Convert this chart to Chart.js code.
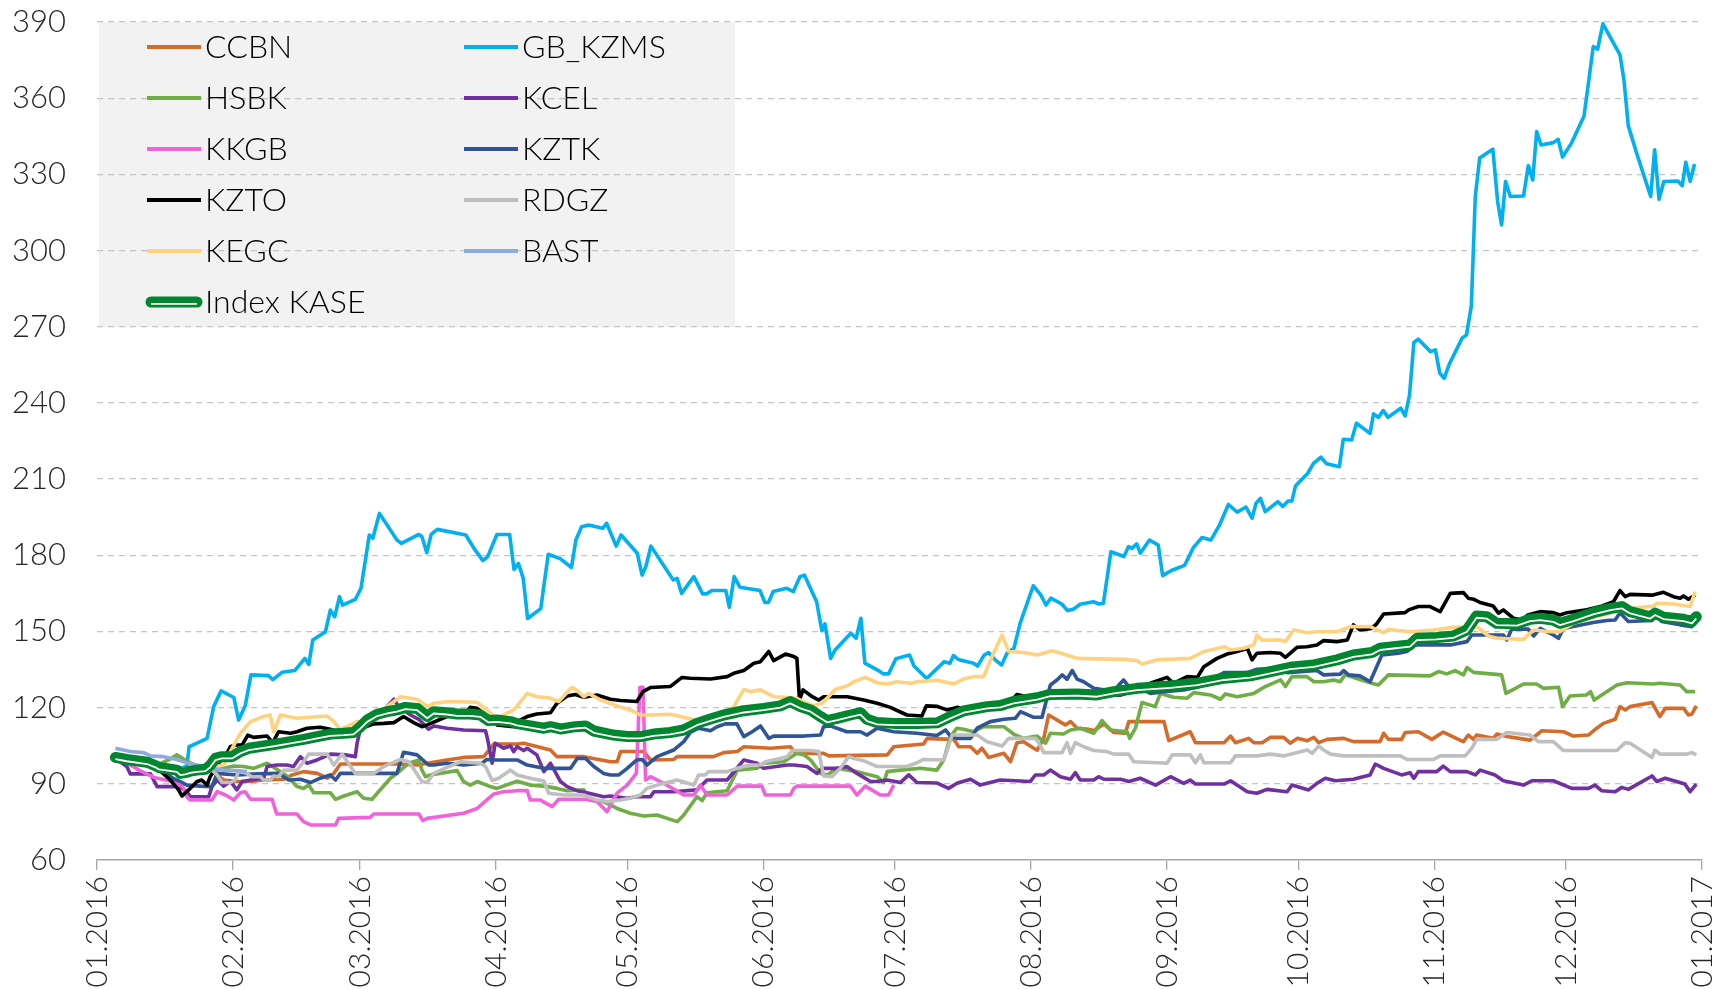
<!DOCTYPE html>
<html>
<head>
<meta charset="utf-8">
<title>KASE 2016</title>
<script src="https://cdn.jsdelivr.net/npm/chart.js@4.4.0/dist/chart.umd.min.js"></script>
<style>
  html, body { margin: 0; padding: 0; background: #ffffff; }
  #wrap { width: 1733px; height: 989px; }
</style>
</head>
<body>
<div id="wrap"><canvas id="chart" width="1733" height="989"></canvas></div>
<script>
// x = day of year 2016 (0 = 01.01.2016), y = index value (start = 100)
const monthStarts = [0, 31, 60, 91, 121, 152, 182, 213, 244, 274, 305, 335, 366];
const monthLabels = ['01.2016', '02.2016', '03.2016', '04.2016', '05.2016', '06.2016', '07.2016',
                     '08.2016', '09.2016', '10.2016', '11.2016', '12.2016', '01.2017'];
const yTicks = [60, 90, 120, 150, 180, 210, 240, 270, 300, 330, 360, 390];

const CCBN = [[4.2,100],[10,98.5],[15,97],[19.8,95.4],[25.8,95.4],[28.9,91.5],[31.9,90.9],[35,90.9],[38,91.5],[42.6,91.8],[44.5,93.5],[47.1,94.8],[50.2,94.1],[52.5,92.2],[54,94.1],[55.5,97.8],[59.3,97.8],[68.4,97.8],[73,97.4],[75.3,98.1],[79.8,99.4],[83.6,100.4],[88.2,100.7],[89.7,104],[90.5,105.7],[95.8,105.7],[97.3,106],[103.4,103.3],[104.9,100.7],[111,100.7],[117.1,98.7],[118.6,98.7],[119.4,102.7],[124.7,102.7],[126.2,99.4],[131.5,99.6],[132.3,100.7],[140.6,100.7],[142.9,102.3],[146,102.7],[147.5,104.6],[153.6,104],[158.1,104.6],[159.3,102],[165.7,102],[166.9,101],[180.2,101.4],[181.7,104.6],[188.5,105.7],[189.3,107.9],[191.6,107.7],[195.4,107.5],[196.5,104.6],[199.2,104.6],[200.7,102],[201.8,104],[203.3,100.4],[206.8,102],[208.3,98.7],[209.8,106.2],[211.3,106.6],[213.6,104],[214.4,103.3],[215.9,107.9],[217,117.1],[220.8,113.2],[222,114.5],[223.5,111.9],[226.2,111.5],[227.3,110.9],[229.6,113.6],[231.9,110.2],[234.5,109.9],[235.3,114.5],[243.3,114.5],[244.4,107],[249.3,110.5],[250.5,106.2],[257,106.2],[258.5,108.8],[259.6,106.2],[262.6,107.9],[263.8,106.2],[265.7,106.2],[267.6,108.3],[270.6,108.3],[272.1,106],[273.7,107.9],[276,107],[277.5,108.3],[278.6,106.2],[280.5,107.5],[284.3,107.9],[286.5,106.6],[292.6,106.6],[293.4,109.9],[294.5,107.5],[297.5,107.5],[298.3,110.2],[301.3,110.5],[304.4,107.5],[307,110.4],[310.8,107.2],[311.6,106.6],[312.7,109.2],[313.9,107.5],[314.6,109.2],[318.4,107.9],[319.2,109.6],[321.5,108.6],[326.8,107.2],[329.5,110.9],[334.4,110.5],[336.7,108.8],[340.1,109.2],[342,111.9],[343.5,113.8],[346.2,115.4],[347.3,120.4],[348.5,119.1],[349.6,120.4],[354.6,122],[356.4,116.5],[357.6,119.7],[361.8,119.7],[362.9,117.1],[363.7,117.5],[364.7,120.7]];

const GB_KZMS = [[4.2,100],[8,99],[12,98],[16,97],[19,96],[20.5,97],[21,104.6],[22.8,106],[25.1,107.9],[26.6,120.4],[28.3,126.6],[31.2,124],[32.3,115.1],[33.8,120.7],[35.1,132.9],[39.1,132.6],[40.1,131],[42.2,133.9],[45.1,134.6],[47.4,139.4],[48.3,137],[49.2,146.6],[52.1,149.9],[53.2,158.4],[54.2,155.8],[55.3,163.7],[56,160.4],[58.9,162.6],[60.2,167],[62.1,188],[62.9,186.7],[64.4,196.5],[68.4,186],[69.4,184.7],[73.4,188.2],[74.1,187.3],[75.2,181],[76.2,188.2],[77.6,190.2],[84.1,188],[86.2,182.1],[88,177.9],[89.1,179.5],[91.2,188.2],[94.1,188.2],[95.1,174.4],[96.1,176.8],[97.2,170.9],[98.2,155.1],[101.2,159],[102.9,180.4],[105.6,178.7],[108.2,175.2],[109.2,186],[110.5,191.2],[112.1,191.9],[115.3,190.6],[116.2,192.6],[118.4,183.6],[119.5,188],[123.2,180.8],[124.3,172.2],[125.2,175.8],[126.3,183.6],[131.4,170.3],[132.3,170.9],[133.3,165],[136.1,171.6],[138.1,164.8],[139,164.8],[140.2,166.1],[143.4,166.1],[144.2,159.5],[145.3,171.6],[146.6,167.4],[151.2,166.1],[152.3,161.4],[153.1,161.4],[154.2,165.7],[157.3,167],[158.8,165.7],[160.3,171.6],[161.3,172.2],[164.1,161.7],[165.3,150.3],[166,153],[167.3,139.4],[168.3,142.7],[171.9,149.3],[173.1,147.3],[174.2,155.2],[175.1,137.5],[178.2,134.6],[179.3,133.3],[180.5,133.3],[182.2,139.3],[185.3,140.7],[186.3,136.4],[189.2,131.5],[193.2,138.1],[194.5,137.5],[195.3,140.5],[196.4,139],[199.9,137.5],[200.8,136.4],[202.3,140.7],[203.3,141.7],[205,138.5],[206.3,136.8],[207.5,141.4],[209.1,143.4],[210.5,153.2],[213.5,168],[215.2,164.4],[216.4,160.4],[217.5,163.1],[220,160.8],[221.3,158.2],[222.6,158.7],[224.2,160.7],[227.2,161.7],[228.5,160.8],[229.5,161.1],[231.2,181.4],[234.2,179.5],[235.2,183.4],[236,182.7],[237.1,184.5],[237.9,180.8],[240,186],[242,184],[243,172],[245,174],[248,176],[250,183],[252,187],[254,186],[256,192],[258,200],[260,197],[262,199],[263.4,194.6],[264.3,200.5],[265.3,202.4],[266.4,197.2],[269.3,201.1],[270.4,199.2],[271.6,201.4],[272.5,201.4],[273.3,207.3],[276.1,212.3],[277.4,216.2],[279.1,218.6],[280.4,216],[283.3,214.9],[284.2,225.7],[286.1,225.4],[287.2,232],[290.3,228],[291.1,235.7],[292.2,234.3],[293.3,237],[294.4,234.3],[297.3,237.9],[298.3,234.9],[299.3,243.1],[300.3,263.8],[301.3,265.1],[304.1,260.2],[305.2,260.9],[306.2,251.7],[307.2,249.7],[308.3,255],[311.3,265.5],[312.3,266.8],[313.4,278.2],[314.3,321.3],[315.3,336.4],[318.3,339.9],[319.4,319.3],[320.3,310.1],[321.2,327.2],[322.3,321.3],[325.3,321.5],[326.4,333.5],[327.4,327.8],[328.3,346.9],[329.3,341.6],[332.1,342.5],[333.2,343.8],[334.2,336.8],[336.3,342.5],[339.1,353],[340.1,365.9],[341.2,380.3],[342.2,379.3],[343.4,389.3],[347.3,377.1],[348.2,367.2],[349.2,349.1],[351.2,337.7],[354.3,321.3],[355.2,339.7],[356.2,320.2],[357.3,327.2],[360.5,327.4],[361.5,325.5],[362.3,334.8],[363.3,327.2],[364.3,334.1]];

const HSBK = [[4.2,100],[7.6,98.1],[13.7,97.4],[16.3,99.4],[18.2,101.4],[20.1,99.4],[22.8,96.8],[25.1,95.4],[26.6,95.2],[28.9,96.1],[31.2,97],[33.4,96.8],[35.7,96.1],[38.8,98.1],[41,95.7],[43.3,93.1],[45.6,88.9],[47.1,88.2],[48.3,89.5],[49.4,86.5],[53.2,86.5],[54.4,83.9],[56.3,85.2],[59.3,86.9],[60.8,84.3],[62.7,83.9],[63.9,86.3],[66.9,92.2],[68.4,94.1],[71.1,98.1],[73.4,99.4],[74.1,95.4],[74.9,92.8],[76,93.5],[82.1,95.2],[83.6,90.9],[85.1,89.5],[86.7,90.9],[89.7,88.9],[91.2,88.2],[95.8,91],[98.8,89.5],[101.9,89.1],[104.9,88.2],[107.2,87.3],[111,87.6],[112.1,83.6],[115.5,83],[118.6,80.3],[121.6,78.4],[124.7,77.3],[127.7,77.7],[132.3,75.1],[133.8,77.7],[136.8,84.9],[138,83.4],[139.1,86.5],[143.7,87.3],[146,95.4],[150.5,96.1],[152,98.1],[156.6,98.7],[159.6,102],[161.2,101.4],[162.7,99.4],[165,94.1],[166.5,93.5],[168.8,96.1],[173.3,94.8],[177.9,92.8],[179.4,90.5],[180.2,94.8],[183.2,95.4],[187.8,96.1],[191.5,95.4],[193.1,99.4],[194.6,108.6],[196.1,111.9],[197.6,111.5],[199.9,110.5],[202.2,112.5],[206.8,112.5],[209,109.6],[211.3,107.9],[214.4,108.8],[216.3,106],[217.4,109.9],[220.4,109.6],[222,111.2],[224.2,111.9],[227.3,109.9],[229.2,114.9],[231.1,111.2],[234.9,110.5],[235.5,107.9],[236.8,111.9],[238.3,122],[241.3,120.4],[242.5,125.6],[245.5,124.1],[248.6,123.7],[250.1,125.9],[253.9,125],[256.2,123.3],[257.3,125.4],[260,124.3],[263.8,125.6],[266.4,128.3],[269.9,130.9],[271,128.3],[272.5,132.2],[275.9,132.2],[277.5,130.2],[279.7,130.2],[282,130.9],[283.5,130.2],[284.6,132.9],[290.7,129.6],[292.2,128.9],[294.5,132.9],[304,132.5],[305.9,134.2],[307.8,133.3],[309.7,134.6],[311.6,132.9],[312.4,135.8],[313.9,133.9],[320.3,132.9],[321.3,125.6],[325.3,129.3],[328.3,129.3],[329.8,127.6],[333.3,128],[334.2,120.4],[335.9,124.6],[339.7,125],[340.6,126.3],[341.4,123],[342.8,124.6],[346.6,128.9],[348.9,129.8],[354.9,129.3],[356.4,129.6],[361,128.9],[362.5,126.3],[364.4,126.3]];

const KCEL = [[4.2,100],[6.8,96.8],[7.6,93.9],[12.2,93.9],[13.7,88.9],[17.5,88.9],[18.2,89.5],[20.5,86.9],[21.3,84.9],[25.5,84.9],[26.2,88.9],[27.4,91.5],[28.9,89.1],[30.4,91],[31.9,87.6],[33.1,90.9],[35,91.5],[38,92.2],[38.8,96.8],[41,97.4],[43.3,97.4],[44.8,96.8],[46.4,100.7],[47.9,98.1],[50.2,99.4],[53.2,101.7],[56.6,101.4],[58.9,100.7],[59.3,105.9],[60.1,111.9],[63.1,115.1],[65.4,119.1],[67.7,123.3],[68.8,120.4],[71.5,117.1],[73.4,115.4],[75.6,111.5],[76.8,112.8],[79.8,111.9],[83.6,111.2],[88.6,110.9],[89.1,107.3],[90.1,98.1],[90.8,106],[92.7,104],[94.3,104.9],[95,102.7],[95.8,104.6],[97.3,103.1],[98.1,104],[100.3,101.4],[101.9,94.8],[103.4,98.1],[105.7,90.9],[107.2,88.9],[109.5,87.3],[111.7,86.5],[115.5,84.9],[117.1,85.2],[120.9,84.3],[123.1,84.9],[126.2,84.9],[127,86.9],[131.5,86.9],[136.8,87.6],[139.1,91.5],[143.7,91.5],[147.5,99.4],[150.5,98.1],[152,96.1],[157.4,97.4],[158.9,97.4],[161.9,96.8],[164.2,94.1],[165.3,96.1],[168.8,96.1],[171,96.8],[173.3,94.1],[176.4,90.9],[177.9,90.9],[180.2,91.5],[183.2,90.5],[185.1,93.5],[187,90.5],[191.6,90.3],[194.2,88.2],[196.1,90.2],[199.2,91.8],[201.4,89.5],[206,91.5],[212.8,90.9],[214,93.5],[215.9,93.5],[217.4,95.4],[219.7,92.8],[222,91.8],[223.1,94.4],[224.2,91.5],[227.3,91.5],[228.4,92.8],[229.6,91.8],[233.4,91.8],[235.3,90.9],[237.9,92.2],[241.4,89.5],[244.8,92.8],[247.8,90.2],[249.3,91.5],[250.5,89.9],[257,89.9],[258.5,91.2],[262.3,86.9],[264.5,86.3],[266.8,87.8],[271.4,86.9],[272.5,89.5],[276.3,87.6],[278.2,90.2],[280.1,92.2],[282.4,91.2],[286.5,91.8],[290.3,93.5],[291.5,97.8],[293.4,96.1],[297.5,93.5],[299.4,94.4],[300.3,92.2],[301.3,94.8],[305.5,94.8],[307,97],[308.6,94.8],[312.4,94.8],[314.3,93.5],[315.4,95.4],[318.8,93.5],[320.7,91.2],[325.3,89.5],[327.2,91.2],[332.1,91.2],[336.3,88.2],[340.1,88.2],[341.6,89.5],[343.1,87.3],[346.2,86.9],[347.7,88.6],[349.2,87.8],[354.6,93.1],[355.7,90.9],[357.6,92.2],[362.1,89.9],[363.3,86.9],[364.7,89.9]];

const KKGB = [[4.2,100],[7,98],[10,95],[13,92.5],[17,91],[19.5,89],[20.5,84.9],[21.3,83.6],[26.2,83.6],[27.4,86.9],[29.3,85.6],[31.2,83.6],[32.7,86.5],[33.8,86.9],[35,83.9],[39.9,83.9],[41,78.1],[45.6,78.1],[47.1,75.1],[48.7,73.8],[54.4,73.8],[55.1,76.4],[62.3,76.8],[63.1,78.1],[73.4,78.1],[74.3,75.5],[75.3,76.4],[83.6,78.4],[86.7,80.3],[89.3,84.3],[90.5,86],[92.7,86.9],[95.8,87.3],[98.1,87.3],[98.8,83.6],[101.1,83.6],[103.8,81],[105.3,83.9],[111.7,83.9],[114,83],[116.3,79],[118.6,86.3],[120.9,89.5],[123,94.1],[123.8,128],[124.5,128],[125.1,91.5],[126.2,92.8],[129.2,90.2],[133.8,85.6],[136.1,85.6],[137.6,89.5],[139.1,85.6],[143.7,85.6],[146,89.1],[151.6,89.1],[152.4,85.6],[158.1,85.6],[158.9,88.2],[159.6,89.1],[171.8,89.1],[173.3,85.6],[175.2,89.1],[178.6,85.6],[180.5,85.6],[181.7,89.5]];

const KZTK = [[4.2,100.5],[10,98],[15,95],[17.5,92],[19,90.9],[20.5,89.5],[23.6,89.1],[26.2,88.9],[27.4,94.1],[31.9,93.5],[36.5,93.9],[41.4,94.1],[43.7,91.5],[46.4,91.8],[48.7,90.5],[50.9,92.2],[53.2,93.5],[54.4,91.5],[55.5,94.1],[68.4,94.1],[69.9,102.4],[73,101.4],[75.6,97.4],[76.8,97.4],[79.8,98.1],[83.6,97.4],[87.8,98.1],[88.9,99.6],[90.5,99.4],[95.8,99.4],[98.1,97.4],[101.9,96.1],[108,96.1],[109.5,100],[111.4,100],[113.3,96.8],[115.5,94.1],[117.1,93.5],[119,93.5],[120.9,96.1],[123.1,99.4],[124.3,99.6],[125.4,97.4],[127.7,100.7],[131.5,103.3],[133.8,106.6],[135.3,110.2],[137.2,111.9],[139.9,110.9],[141.4,112.5],[143.3,113.6],[145.9,113.6],[147.5,108.6],[149.4,110.5],[151.3,112.8],[153.2,107.9],[154.3,108.8],[161.2,108.8],[165,109.2],[165.7,112.5],[167.2,112.8],[171,110.5],[174.1,110.5],[175.6,109.2],[177.9,111.9],[181.7,110.5],[187,109.9],[191.5,109],[193.5,111.2],[194.6,108.8],[196.1,107.9],[199.2,107.9],[200.7,111.9],[203.7,114.5],[206.8,115.4],[209.4,115.8],[210.6,118.4],[213.6,116.2],[215.5,116.2],[217.4,128.9],[218.9,130.9],[220.1,132.9],[221.2,131.2],[222.4,134.6],[223.5,131.2],[225,130.2],[227.3,127.6],[229.6,127],[231.5,125.6],[233,128.9],[234.1,130.9],[235.3,128.3],[237.2,128.3],[240.2,125.6],[243.3,126.3],[247.8,127],[250.9,128],[257,133.8],[262.3,133.8],[264.5,135.1],[268.3,135.5],[271.4,133.8],[275.2,134.2],[278.2,134.6],[279.7,132.9],[283.5,133.2],[284.3,134.6],[285.4,132.9],[288,132.5],[290.3,130.2],[293,140.7],[296.8,141.4],[298.7,142.1],[300.6,144.7],[308.6,144.7],[312.4,146],[313.5,148.6],[320.7,148.6],[321.5,146.6],[322.6,150.9],[326.4,150.9],[327.6,148.2],[329.1,151.2],[332.1,148.6],[333.3,147.3],[334.4,151.2],[341.2,153.5],[344.3,154.3],[346.2,154.5],[347.3,157.4],[349.2,153.9],[354.6,154.3],[355.3,157.8],[356.8,153.9],[361,152.6],[363.7,151.9],[364.4,153.2]];

const KZTO = [[4.6,99.4],[8,98.5],[12,97.5],[14.5,95],[16.7,91.5],[18.6,87.6],[19.4,85.2],[20.9,87.6],[22.8,90.9],[23.9,91.5],[25.1,89.5],[25.8,92.8],[27.7,98.1],[29.3,101],[30.4,104.6],[31.5,105.3],[33.1,105.3],[34.4,109.2],[35.7,108.3],[38.8,108.8],[40.1,106.2],[41.4,110.5],[44.1,109.9],[45.6,110.5],[47.9,111.9],[50.9,112.3],[53.2,111.5],[55.1,110.5],[56.3,111.9],[59,111],[63.1,113.6],[65.4,113.8],[67.7,114.1],[69.9,116.5],[72.2,114.1],[74.1,112.5],[75.3,113.2],[79.8,116.5],[83.6,117.1],[85.1,120.1],[86.7,119.7],[88.6,117.1],[90.1,115.4],[91.2,113.2],[95,112.5],[95.8,114.5],[98.1,116.5],[100.3,117.5],[103.4,118],[104.9,121.7],[107.2,124.6],[109.1,125.2],[111,124.1],[114,125],[117.1,123.3],[119.4,122.8],[123.1,122.4],[124.5,126.3],[126.2,127.9],[130.7,128.3],[133.4,131.9],[135.3,131.6],[139.9,131.3],[143.7,132.2],[145.2,133.5],[147.5,134.6],[149.8,137.5],[151.3,138.1],[153.2,142.1],[154.3,138.5],[157,141.1],[158.9,140.1],[159.6,139.4],[160.2,123],[161,127],[163.1,124.3],[164.6,123],[165.7,124.3],[171.1,124.3],[174.8,123],[177.9,121.7],[180.9,120.1],[184.7,117.1],[188.1,116.7],[189.1,120.7],[191.6,120.5],[193.8,119.1],[196.1,120.1],[199.2,119.1],[203,120.7],[206.8,119.7],[209.8,125.2],[212.1,124.3],[215.1,125],[218.2,126.3],[222,125.6],[229.6,125],[233.4,125],[237.2,127],[240.2,129.6],[244,131.9],[245.5,129.6],[248.6,132.2],[250.9,131.9],[252.4,136.1],[255.4,139.4],[257.7,141.1],[260,142.1],[262.3,143.4],[263.4,138.8],[264.5,141.4],[267.6,141.7],[269.9,141.4],[271,139.8],[273.7,143.8],[275.9,144],[278.2,144.7],[279.7,146.4],[282.8,146],[285.1,146.6],[286.5,152.6],[288,150.6],[290.7,151.2],[291.8,153],[293.4,156.9],[298.3,157.4],[299.1,158.5],[301.3,159.8],[304,159.8],[306.3,157.8],[308.6,165],[311.6,165.3],[312.7,163.1],[313.9,162.7],[315.4,161.4],[318.4,160],[319.6,157.2],[320.7,158.5],[323,155.2],[324.9,154.5],[326.3,156.5],[329.1,157.8],[332.1,157.4],[333.6,156.5],[335.2,157.4],[339.7,158.5],[342.8,159.8],[345.8,161.7],[347.3,166.1],[348.5,163.7],[349.6,164.6],[354.6,164.3],[357.2,165.4],[359.5,163.7],[361,163.1],[361.8,164],[362.9,162.7],[364.4,164.4]];

const RDGZ = [[4.2,100],[10,99],[16,97],[20,95.5],[22.8,94.4],[24.3,95.4],[25.8,96.1],[27.4,93.5],[28.5,90.5],[30.4,90.5],[31.5,91.5],[32.3,94.8],[33.8,94.4],[35.3,92.8],[37.2,92.8],[38,91.5],[39.5,91.5],[40.3,93.1],[41.4,92.8],[42.6,95.4],[45.6,95.4],[47.1,98.7],[48.3,101.7],[52.5,101.7],[54,97.4],[55.9,101.7],[58.9,94.1],[63.1,94.1],[65.4,96.8],[69.2,99.6],[71.1,98.7],[74.1,90.9],[75.3,90.5],[76.8,94.1],[79.8,96.5],[82.9,98.7],[87.4,98.1],[88.6,96.8],[90.1,91.3],[91.6,92.2],[94.3,95.4],[95.8,93.5],[98.8,92.2],[101.9,91.1],[103,86.3],[106.4,85.6],[111,85.6],[114,83.6],[116.3,83],[119.3,83.6],[121.6,84.3],[123.9,85.6],[125.4,88.2],[127.7,89.5],[132.3,91.5],[136.1,89.5],[137.2,93.5],[138.7,93.5],[139.5,94.8],[143.7,94.8],[146,96.1],[149,97.4],[151.7,97.4],[152.4,98.7],[155.8,100],[157.4,100.7],[158.5,103.1],[162.7,103.1],[164.6,102.7],[165.7,93.1],[167.6,92.8],[169.5,96.1],[171.4,100.7],[172.6,100],[174.8,99.1],[177.9,96.8],[184.7,96.8],[187,98.3],[188.5,99.6],[193.1,99.4],[195,109.2],[200.7,109.2],[203,106.6],[206.4,104.9],[207.9,107.9],[214,107.9],[214.8,106],[215.9,102.3],[220.1,102.3],[221.2,106.2],[222,102],[223.1,106.2],[225,104.6],[227.3,103.1],[230.3,102.7],[231.9,101.7],[235.3,101.7],[236.4,98.7],[241.7,98.3],[244,98.1],[245.2,101.4],[249.3,101.4],[250.5,98.3],[251.6,101.4],[252.4,98.3],[258.5,98.3],[259.6,101],[264.5,101],[267.6,101.7],[270.6,101],[273.7,102.3],[276,103.3],[277.1,102],[278.6,104.9],[279.7,103.3],[281.3,101.7],[284.3,101],[297.2,101],[298.7,99.6],[304.8,99.6],[306.3,101],[312,101],[313.5,104],[314.6,107.5],[319.2,107.5],[321.5,110.2],[326.8,109.2],[328.7,106.6],[332.1,106.6],[334.4,103.1],[346.6,103.1],[348.5,106.2],[349.6,106],[354.6,100.4],[355.3,103.3],[356.4,101.7],[362.5,101.7],[363.7,102.3],[364.7,101.4]];

const KEGC = [[4.2,100],[11.4,97.4],[19,95.4],[25.1,96.1],[28.9,97.4],[30.4,102.7],[32.7,109.9],[35,114.5],[38,116.5],[39.5,117.1],[40.3,110.5],[41.8,117.1],[45.6,115.8],[48.7,116.2],[52.5,116.7],[54,114.5],[55.5,111.2],[57,112.5],[59.3,114.5],[62,114],[66.1,120.4],[69.2,124.3],[73,123.3],[75.3,120.4],[76.8,121.7],[80.6,122.4],[86.7,122.1],[89.7,117.8],[91.2,115.8],[95,119.1],[95.8,120.7],[98.1,125.6],[100.3,124.3],[103,123.9],[105.3,122.4],[108.3,128],[109.5,126.7],[111,124.3],[112.1,125.6],[114.8,123],[118.6,120.7],[121.6,119.1],[123.9,117.1],[126.2,117.1],[130.7,117.4],[133.8,116.2],[137.6,114.5],[139.9,116.5],[142.9,117.1],[145.2,120.4],[147.5,127.2],[149,126.3],[151.3,127],[154.3,124.3],[156.6,124.1],[159.6,123.7],[161.9,121.7],[163.4,120.7],[165.3,121.7],[167.2,125],[168.4,127.2],[171,128.5],[172.6,130.2],[175.2,131.9],[177.9,129.8],[180.2,129.3],[182.4,130.2],[185.5,129.6],[187,130.2],[191.5,130.8],[195.4,129.3],[197.6,131.3],[199.9,132.2],[202.2,132.2],[204.1,140.1],[206.4,148.6],[207.9,142.1],[211.3,141.7],[214.4,140.7],[217.8,142.4],[220.4,141.1],[223.5,139.4],[228,139.2],[234.1,139],[237.2,138.5],[238.3,137.2],[241.7,138.8],[249.3,139.4],[252.4,142.1],[254.7,143],[257,144],[258.5,142.7],[261.5,143.4],[263.8,144.7],[264.5,148.6],[265.7,146.6],[269.9,146.6],[271,146],[272.9,150.6],[276,149.5],[278.2,149.9],[282.8,149.9],[285.8,151.9],[290.3,151.9],[293.4,149.5],[294.5,150.8],[299.4,149.9],[304.8,150.6],[309.3,151.6],[314.6,151.9],[317.3,148.2],[319.2,147.3],[325.3,146.9],[327.6,150.6],[331.4,149.9],[333.6,149.9],[336.7,153.2],[341.2,155.6],[347.3,158.2],[350.4,159.1],[354.9,160],[355.7,161.1],[359.5,160.8],[363.3,159.8],[364.4,165.7]];

const BAST = [[4.2,104],[7.6,102.7],[10.6,102.3],[12.2,101],[15.2,100.7],[18.2,99.6],[20.5,98.3],[24.3,96.8],[25.8,96.1],[28.9,95.4],[31.9,95.2],[34.2,94.8]];

const INDEX_KASE = [[4.2,100.4],[6.8,99.6],[11.4,98.5],[13.3,97.2],[14.1,96.4],[18.2,95.4],[19,94.1],[20.1,94.4],[21.3,95],[22.8,95.4],[24.7,95.7],[25.8,97.2],[27,100],[28.5,100.7],[30.8,100.7],[32.7,102.7],[34.6,104],[38,104.9],[41,105.7],[44.1,106.6],[47.1,107.5],[50.2,108.6],[53.2,109.6],[56.3,109.9],[58.5,110.2],[60.1,112.5],[61.6,115.1],[63.9,117.4],[66.1,118.4],[68.4,119.1],[70.3,120.1],[73,119.7],[75.3,116.5],[76.8,118.4],[79.8,118],[82.1,117.5],[85.1,117.5],[87.4,117.1],[89.3,114.9],[91.2,115.1],[94.3,114.5],[95.8,113.7],[98.8,112.8],[101.9,111.9],[103.4,112.5],[105.7,111.6],[109.1,112.5],[111.4,112.8],[113.3,110.8],[117.8,109.2],[120.9,108.6],[123.9,108.6],[126.9,109.6],[130.7,110.2],[133.8,111.2],[136.8,113.8],[139.9,115.5],[142.9,117.1],[147.5,118.8],[152,119.7],[155.8,120.7],[158.1,122.4],[160.4,120.4],[162.7,119.1],[165,116.5],[166.5,114.9],[168.8,115.8],[171.8,117.1],[174.1,118],[175.6,115.4],[177.9,114.1],[181.7,113.8],[187,113.8],[191.6,114],[194.6,116.5],[197.6,118.7],[203,120.4],[206,120.8],[209,122.4],[214.4,123.9],[217.4,125.2],[223.5,125.4],[228,125],[231.9,126.3],[237.2,127.6],[244.8,128.5],[250.9,129.6],[257,131.6],[263,132.5],[267.6,134.2],[272.1,135.9],[277.5,136.8],[282.8,138.8],[286.5,140.7],[290.7,141.7],[292.6,143.4],[295.6,144],[299.4,144.7],[301,147.3],[305.5,147.6],[309.3,148.2],[312.4,150.6],[314.6,156.1],[316.9,155.8],[319.2,153.2],[323.8,153],[326.8,154.8],[329.1,155.2],[332.1,154.5],[333.6,153.2],[336.7,154.8],[341.2,157.4],[345.1,159.1],[347.7,159.8],[349.6,157.8],[354.2,155.8],[355.3,157.2],[357.2,155.6],[361.8,154.8],[363.7,153.9],[364.7,155.8]];

// series in legend order (row by row, two columns)
const series = [
    { name: 'CCBN',       data: CCBN,       color: '#D56B2B' },
    { name: 'GB_KZMS',    data: GB_KZMS,    color: '#00B0F0' },
    { name: 'HSBK',       data: HSBK,       color: '#70AD47' },
    { name: 'KCEL',       data: KCEL,       color: '#7030A0' },
    { name: 'KKGB',       data: KKGB,       color: '#F062D9' },
    { name: 'KZTK',       data: KZTK,       color: '#2F5597' },
    { name: 'KZTO',       data: KZTO,       color: '#000000' },
    { name: 'RDGZ',       data: RDGZ,       color: '#BFBFBF' },
    { name: 'KEGC',       data: KEGC,       color: '#FFD27F' },
    { name: 'BAST',       data: BAST,       color: '#8FAADC' },
    { name: 'Index KASE', data: INDEX_KASE, color: '#00862F', kase: true }
];

const FONT = "Lato, 'Open Sans', 'Noto Sans', sans-serif";
const toXY = arr => arr.map(p => ({ x: p[0], y: p[1] }));

const datasets = series.map((s, i) => ({
    label: s.name,
    data: toXY(s.data),
    borderColor: s.color,
    backgroundColor: s.color,
    borderWidth: s.kase ? 11 : 3.6,
    borderCapStyle: s.kase ? 'round' : 'butt',
    borderJoinStyle: 'round',
    pointRadius: 0,
    tension: 0,
    order: series.length - i
}));
// white inner stripe of the double line of Index KASE
datasets.push({
    label: 'Index KASE inner',
    data: toXY(INDEX_KASE),
    borderColor: '#FFFFFF',
    borderWidth: 1.8,
    borderJoinStyle: 'round',
    pointRadius: 0,
    tension: 0,
    order: 0,
    inner: true
});

// --- double line offset for the inner stripe ---
const innerStripe = {
    id: 'innerStripe',
    beforeDatasetDraw(chart, args) {
        if (chart.data.datasets[args.index].inner) {
            chart.ctx.save();
            chart.ctx.translate(0, 1.8);
        }
    },
    afterDatasetDraw(chart, args) {
        if (chart.data.datasets[args.index].inner) chart.ctx.restore();
    }
};

// --- legend in a grey box, two columns ---
const legendBox = {
    id: 'legendBox',
    beforeDraw(chart) {
        const a = chart.chartArea;
        const c = chart.ctx;
        c.save();
        c.fillStyle = '#F2F2F2';
        c.fillRect(a.left + 2, a.top, 636, 305);
        c.restore();
    },
    afterDraw(chart) {
        const a = chart.chartArea;
        const c = chart.ctx;
        c.save();
        c.font = '300 32px ' + FONT;
        c.textBaseline = 'middle';
        c.fillStyle = '#000000';
        series.forEach((s, i) => {
            const col = i % 2, row = Math.floor(i / 2);
            const x0 = a.left + (col ? 367 : 50);
            const y = a.top + 25 + row * 51;
            c.lineCap = s.kase ? 'round' : 'butt';
            c.strokeStyle = s.color;
            c.lineWidth = s.kase ? 11 : 3.8;
            c.beginPath();
            c.moveTo(x0 + (s.kase ? 4 : 0), y);
            c.lineTo(x0 + (s.kase ? 50 : 54), y);
            c.stroke();
            if (s.kase) {
                c.strokeStyle = '#FFFFFF';
                c.lineWidth = 1.8;
                c.lineCap = 'butt';
                c.beginPath();
                c.moveTo(x0 + 4, y + 1.8);
                c.lineTo(x0 + 50, y + 1.8);
                c.stroke();
            }
            c.fillText(s.name, x0 + 58, y + 1);
        });
        c.restore();
    }
};

const ctx = document.getElementById('chart').getContext('2d');
new Chart(ctx, {
    type: 'line',
    data: { datasets },
    options: {
        responsive: false,
        animation: false,
        devicePixelRatio: 1,
        layout: { padding: { top: 22, right: 31, left: 0, bottom: 0 } },
        plugins: { legend: { display: false }, tooltip: { enabled: false } },
        scales: {
            x: {
                type: 'linear',
                min: 0,
                max: 366,
                afterBuildTicks: s => { s.ticks = monthStarts.map(v => ({ value: v })); },
                afterFit: s => { s.height = 129; s.paddingLeft = 0; s.paddingRight = 0; },
                ticks: {
                    autoSkip: false,
                    minRotation: 90,
                    maxRotation: 90,
                    padding: 6,
                    color: '#262626',
                    font: { family: FONT, size: 30, weight: '300' },
                    callback: v => monthLabels[monthStarts.indexOf(v)]
                },
                grid: { drawOnChartArea: false, drawTicks: true, tickLength: 10, color: '#A6A6A6', lineWidth: 1.3 },
                border: { display: true, color: '#A6A6A6', width: 1.5 }
            },
            y: {
                min: 60,
                max: 390,
                afterBuildTicks: s => { s.ticks = yTicks.map(v => ({ value: v })); },
                afterFit: s => { s.width = 97; s.paddingTop = 0; s.paddingBottom = 0; },
                ticks: {
                    padding: 31,
                    color: '#262626',
                    font: { family: FONT, size: 31, weight: '300' }
                },
                grid: {
                    drawTicks: false,
                    lineWidth: 1.3,
                    color: c => (c.tick && c.tick.value === 60) ? 'rgba(0,0,0,0)' : '#C4C4C4'
                },
                border: { display: false, dash: [6, 5] }
            }
        }
    },
    plugins: [legendBox, innerStripe]
});
</script>
</body>
</html>
